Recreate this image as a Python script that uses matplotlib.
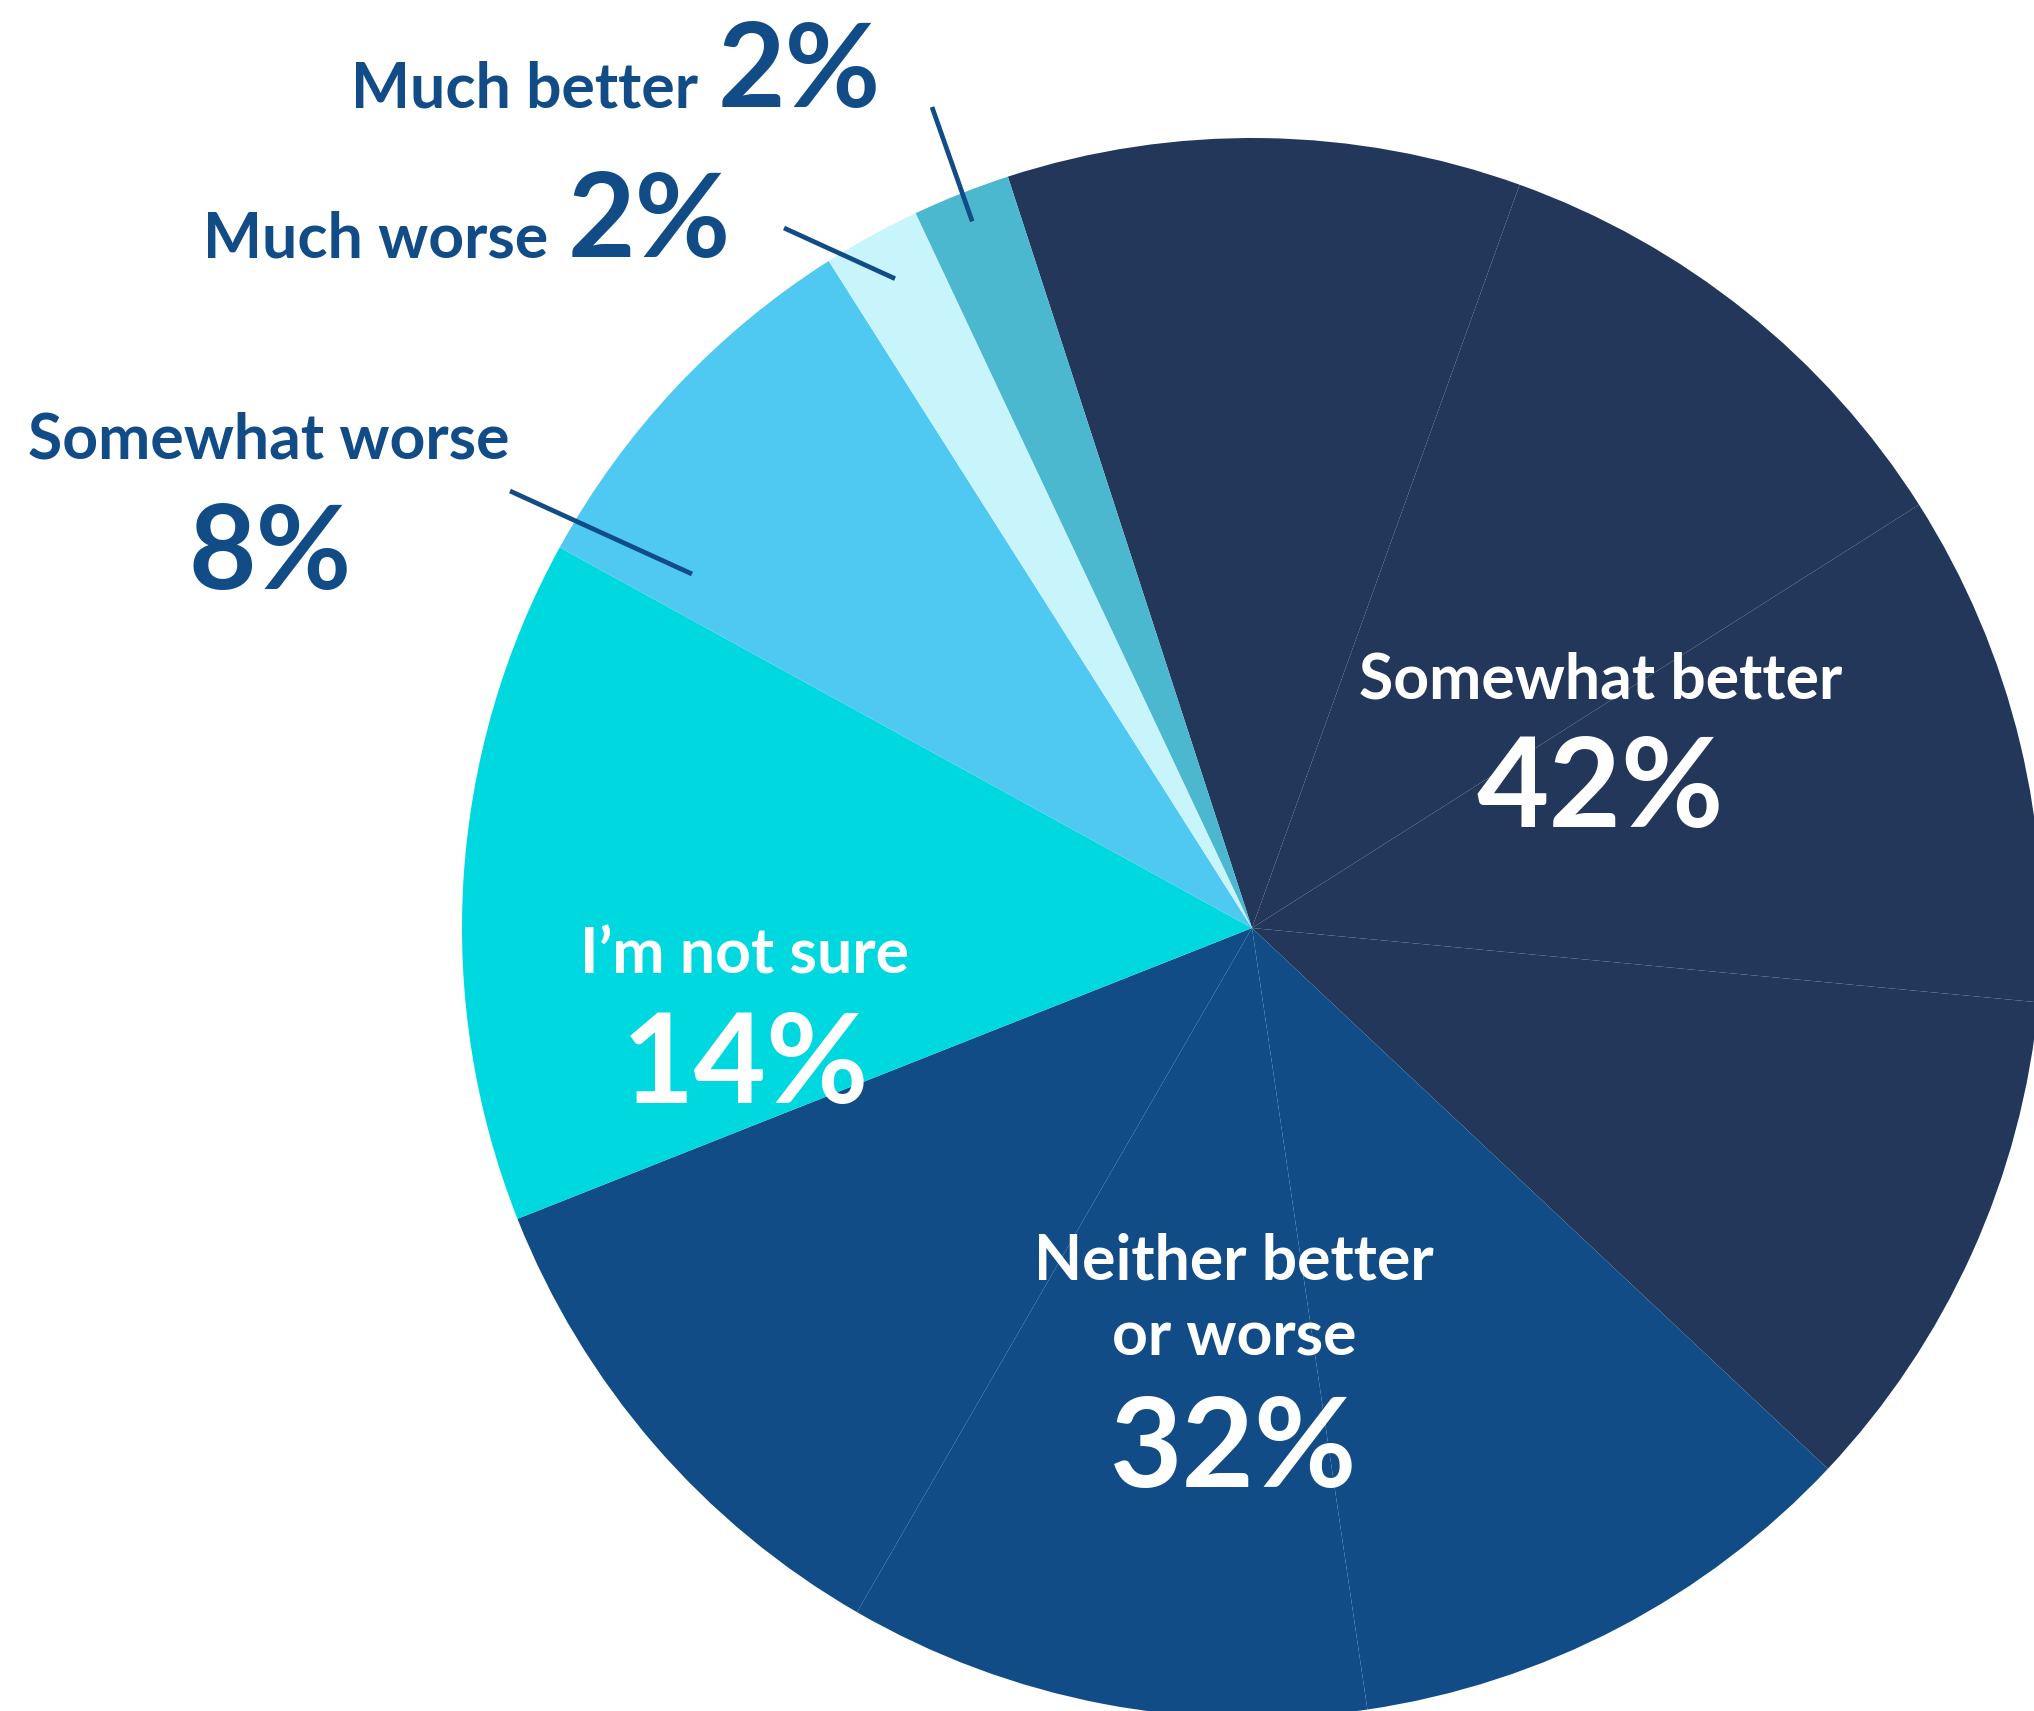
import numpy as np
import matplotlib.pyplot as plt

plt.rcParams['font.family'] = ['Lato', 'DejaVu Sans']

# survey shares, clockwise from the top
labels = ['Somewhat better', 'Neither better\nor worse', 'I’m not sure',
          'Somewhat worse', 'Much worse', 'Much better']
values = [42, 32, 14, 8, 2, 2]
colors = ['#22375A', '#114C87', '#00D8E0', '#4FC8F2', '#C8F4FC', '#4BB8D0']
# the two big slices are built from equal sub-wedges
parts = [4, 3, 1, 1, 1, 1]

W, H = 2034, 1711
cx, cy, R = 1252, H - 928, 790
start = 108
ink = '#124C87'

fig = plt.figure(figsize=(W / 100, H / 100), dpi=100)
ax = fig.add_axes([0, 0, 1, 1])

sub_vals, sub_cols = [], []
for v, c, n in zip(values, colors, parts):
    sub_vals += [v / n] * n
    sub_cols += [c] * n

wedges, _ = ax.pie(sub_vals, colors=sub_cols, startangle=start, counterclock=False,
                   center=(cx, cy), radius=R, frame=True,
                   wedgeprops=dict(linewidth=0, antialiased=True))

# angle range of each whole slice
bounds = []
a = start
for v in values:
    bounds.append((a - v * 3.6, a))
    a -= v * 3.6


def polar(ang, r):
    t = np.deg2rad(ang)
    return cx + r * np.cos(t), cy + r * np.sin(t)


txt = dict(fontsize=45, fontweight='bold')
big = dict(fontsize=90, fontweight='bold')
mid = dict(fontsize=84, fontweight='bold')

# labels inside the large slices
ax.text(1601, 1013, labels[0], color='white', ha='center', va='baseline', **txt)
ax.text(1600, 884, f'{values[0]}%', color='white', ha='center', va='baseline', **big)
ax.text(1234, 432, 'Neither better', color='white', ha='center', va='baseline', **txt)
ax.text(1234, 356, 'or worse', color='white', ha='center', va='baseline', **txt)
ax.text(1234, 224, f'{values[1]}%', color='white', ha='center', va='baseline', **big)
ax.text(745, 738, labels[2], color='white', ha='center', va='baseline', **txt)
ax.text(746, 608, f'{values[2]}%', color='white', ha='center', va='baseline', **big)

# outside labels for the small slices
ax.text(269, 1253, labels[3], color=ink, ha='center', va='baseline', **txt)
ax.text(270, 1122, f'{values[3]}%', color=ink, ha='center', va='baseline', **mid)
ax.text(548, 1454, labels[4], color=ink, ha='right', va='baseline', **txt)
ax.text(568, 1454, f'{values[4]}%', color=ink, ha='left', va='baseline', **mid)
ax.text(698, 1604, labels[5], color=ink, ha='right', va='baseline', **txt)
ax.text(718, 1604, f'{values[5]}%', color=ink, ha='left', va='baseline', **mid)

# leader lines
lo, hi = bounds[5]
ex, ey = polar((lo + hi) / 2, 760)
ax.plot([932, ex], [1604, ey], color=ink, lw=3.4, solid_capstyle='butt')
lo, hi = bounds[4]
ex, ey = polar((lo + hi) / 2, 741)
ax.plot([784, ex], [1483, ey], color=ink, lw=3.4, solid_capstyle='butt')
ax.plot([510, 692], [1220, 1137], color=ink, lw=3.4, solid_capstyle='butt')

ax.set_xlim(0, W)
ax.set_ylim(0, H)
ax.set_aspect('equal')
ax.axis('off')

fig.savefig('out.png', dpi=100, facecolor='white')
